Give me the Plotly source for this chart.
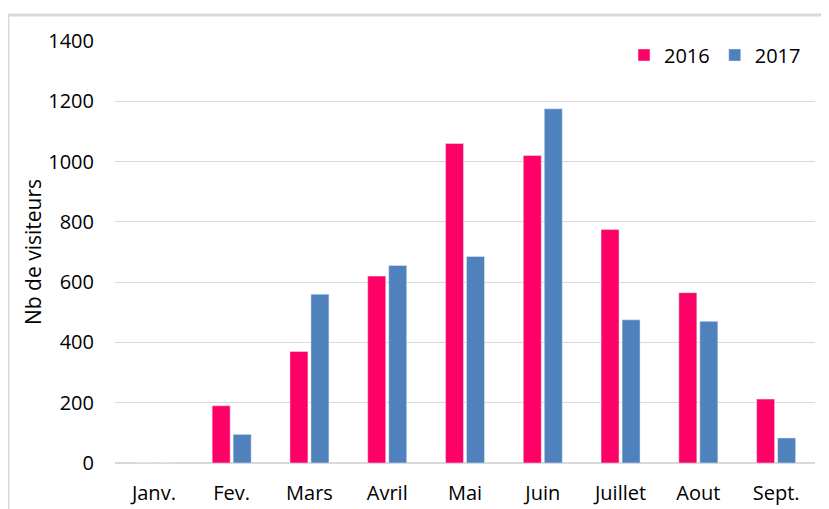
import plotly.graph_objects as go

months = ["Janv.", "Fev.", "Mars", "Avril", "Mai", "Juin", "Juillet", "Aout", "Sept."]
v2016 = [0, 190, 370, 620, 1060, 1020, 775, 565, 212]
v2017 = [0, 95, 560, 655, 685, 1175, 475, 470, 83]
yticks = [0, 200, 400, 600, 800, 1000, 1200, 1400]

FONT = "Open Sans, sans-serif"

# page body has an 8px default margin; compensate so the plot lands where the reference has it
OFF = 8
L, T, PW, PH = 115 - OFF, 41 - OFF, 700, 422

def px_x(x):
    return (x - 115) / PW

def px_y(y):
    return (463 - y) / PH

fig = go.Figure()
fig.add_trace(go.Bar(name="2016", x=months, y=v2016, marker_color="#FF0066"))
fig.add_trace(go.Bar(name="2017", x=months, y=v2017, marker_color="#4F81BD"))

fig.update_layout(
    width=829 - OFF, height=509 - OFF,
    margin=dict(l=L, r=829 - OFF - L - PW, t=T, b=509 - OFF - T - PH, autoexpand=False),
    paper_bgcolor="white", plot_bgcolor="white",
    barmode="group", bargap=0.46, bargroupgap=0.143,
    font=dict(family=FONT, size=20, color="#000000"),
    showlegend=True,
    legend=dict(orientation="h", x=px_x(806), xanchor="right", y=px_y(55), yanchor="middle",
                font=dict(size=20), itemwidth=30, traceorder="normal",
                bgcolor="rgba(0,0,0,0)"),
    xaxis=dict(showgrid=False, showline=False, ticks="", tickfont=dict(size=20),
               ticklabelstandoff=16),
    yaxis=dict(range=[0, 1400], tickvals=yticks, showgrid=True, gridcolor="#D9D9D9",
               gridwidth=1, zeroline=True, zerolinecolor="#D9D9D9", zerolinewidth=2,
               ticks="", tickfont=dict(size=20), ticklabelstandoff=20,
               title=dict(text="Nb de visiteurs", font=dict(size=21), standoff=0)),
    shapes=[
        dict(type="line", xref="paper", yref="paper", x0=px_x(8), x1=px_x(840), y0=px_y(15), y1=px_y(15),
             line=dict(color="#D9D9D9", width=3)),
        dict(type="line", xref="paper", yref="paper", x0=px_x(8), x1=px_x(8), y0=px_y(15), y1=px_y(520),
             line=dict(color="#D9D9D9", width=3)),
    ],
)

fig.write_html("out.html")
